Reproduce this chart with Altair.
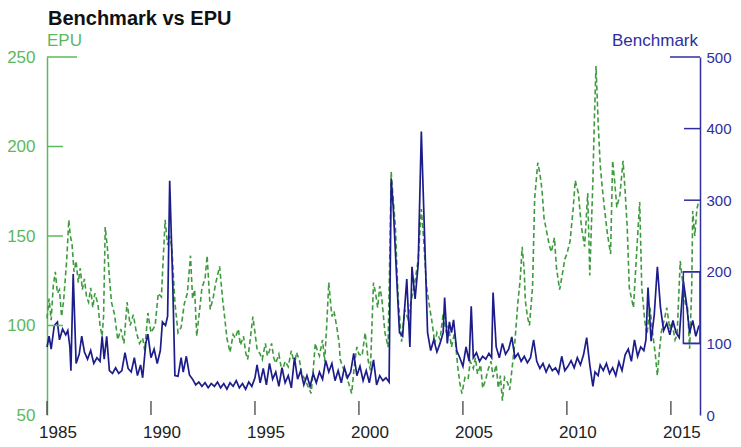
import altair as alt
import pandas as pd

# ---------------- data ----------------
bench_x = [1985.0, 1985.1, 1985.2, 1985.35, 1985.5, 1985.6, 1985.75, 1985.9, 1986.0, 1986.1,
           1986.15, 1986.26, 1986.4, 1986.55, 1986.67, 1986.8, 1986.95, 1987.1, 1987.25, 1987.4,
           1987.55, 1987.65, 1987.75, 1987.87, 1988.0, 1988.15, 1988.3, 1988.45, 1988.6, 1988.75,
           1988.9, 1989.05, 1989.2, 1989.35, 1989.5, 1989.6, 1989.75, 1989.85, 1990.0, 1990.15,
           1990.3, 1990.45, 1990.55, 1990.7, 1990.8, 1990.9, 1991.05, 1991.15, 1991.3, 1991.45,
           1991.55, 1991.7, 1991.85, 1992.0, 1992.15, 1992.3, 1992.45, 1992.6, 1992.75, 1992.9,
           1993.05, 1993.2, 1993.35, 1993.5, 1993.65, 1993.8, 1993.95, 1994.1, 1994.25, 1994.4,
           1994.55, 1994.7, 1994.85, 1995.0, 1995.1, 1995.25, 1995.4, 1995.55, 1995.7, 1995.85,
           1996.0, 1996.15, 1996.3, 1996.45, 1996.6, 1996.75, 1996.9, 1997.05, 1997.2, 1997.35,
           1997.5, 1997.65, 1997.8, 1997.95, 1998.1, 1998.25, 1998.4, 1998.55, 1998.7, 1998.85,
           1999.0, 1999.15, 1999.3, 1999.45, 1999.6, 1999.75, 1999.9, 2000.05, 2000.2, 2000.35,
           2000.5, 2000.7, 2000.85, 2001.0, 2001.15, 2001.3, 2001.45, 2001.55, 2001.65, 2001.8,
           2001.95, 2002.1, 2002.3, 2002.45, 2002.55, 2002.7, 2002.85, 2003.0, 2003.15, 2003.3,
           2003.45, 2003.6, 2003.75, 2003.9, 2004.05, 2004.12, 2004.25, 2004.35, 2004.45, 2004.55,
           2004.7, 2004.85, 2005.0, 2005.15, 2005.3, 2005.4, 2005.5, 2005.65, 2005.8, 2005.95,
           2006.1, 2006.25, 2006.38, 2006.45, 2006.6, 2006.75, 2006.9, 2007.05, 2007.2, 2007.35,
           2007.5, 2007.65, 2007.8, 2007.95, 2008.1, 2008.25, 2008.4, 2008.55, 2008.7, 2008.85,
           2009.0, 2009.15, 2009.3, 2009.45, 2009.6, 2009.75, 2009.9, 2010.05, 2010.2, 2010.35,
           2010.5, 2010.65, 2010.8, 2010.95, 2011.1, 2011.25, 2011.35, 2011.5, 2011.6, 2011.75,
           2011.9, 2012.05, 2012.2, 2012.35, 2012.5, 2012.65, 2012.8, 2012.95, 2013.1, 2013.25,
           2013.4, 2013.55, 2013.7, 2013.8, 2013.9, 2014.05, 2014.2, 2014.35, 2014.5, 2014.65,
           2014.8, 2014.95, 2015.1, 2015.25, 2015.4, 2015.6, 2015.75, 2015.9, 2016.05, 2016.2,
           2016.35]
bench_y = [95, 110, 92, 125, 130, 105, 120, 112, 118, 95,
           62, 197, 72, 85, 110, 88, 78, 90, 72, 80,
           75, 110, 78, 110, 62, 58, 66, 58, 62, 87,
           65, 60, 80, 55, 70, 52, 100, 113, 80, 92,
           72, 90, 130, 125, 138, 327, 180, 55, 54, 80,
           60, 82, 56, 50, 42, 46, 40, 45, 38, 44,
           40, 46, 38, 44, 36, 45, 40, 48, 38, 44,
           36, 46, 40, 52, 70, 45, 65, 42, 72, 50,
           60, 40, 66, 45, 55, 38, 80, 50, 62, 42,
           55, 40, 58, 45, 60, 50, 76, 60, 72, 48,
           62, 45, 66, 52, 60, 86, 55, 68, 48, 62,
           45, 77, 42, 55, 48, 52, 46, 330, 290, 200,
           115, 110, 190, 95, 207, 162, 211, 396, 256, 115,
           90, 105, 88, 100, 115, 164, 100, 130, 115, 133,
           90, 80, 68, 95, 75, 152, 80, 87, 75, 82,
           78, 86, 80, 171, 95, 80, 100, 85, 92, 109,
           80, 86, 75, 82, 73, 80, 105, 75, 65, 72,
           60, 70, 62, 66, 58, 82, 62, 68, 76, 66,
           80, 70, 84, 108, 70, 40, 60, 55, 70, 62,
           72, 58, 66, 55, 74, 62, 84, 92, 75, 105,
           82, 95, 90, 105, 178, 103, 140, 207, 150, 118,
           128, 112, 132, 115, 108, 187, 156, 115, 132, 110,
           125]

epu_x = [1985.0, 1985.1, 1985.2, 1985.3, 1985.4, 1985.5, 1985.6, 1985.7, 1985.8, 1985.95,
         1986.05, 1986.12, 1986.2, 1986.3, 1986.4, 1986.5, 1986.6, 1986.7, 1986.8, 1986.9,
         1987.0, 1987.1, 1987.2, 1987.3, 1987.45, 1987.55, 1987.65, 1987.72, 1987.8, 1987.9,
         1988.0, 1988.1, 1988.25, 1988.4, 1988.55, 1988.7, 1988.85, 1989.0, 1989.15, 1989.3,
         1989.45, 1989.6, 1989.7, 1989.85, 1990.0, 1990.2, 1990.35, 1990.5, 1990.6, 1990.68,
         1990.8, 1990.9, 1991.0, 1991.15, 1991.3, 1991.45, 1991.6, 1991.75, 1991.9, 1992.0,
         1992.1, 1992.2, 1992.35, 1992.45, 1992.6, 1992.7, 1992.85, 1993.0, 1993.1, 1993.2,
         1993.3, 1993.45, 1993.55, 1993.65, 1993.8, 1993.95, 1994.05, 1994.2, 1994.3, 1994.45,
         1994.55, 1994.65, 1994.75, 1994.9, 1995.0, 1995.1, 1995.25, 1995.35, 1995.5, 1995.6,
         1995.7, 1995.8, 1995.9, 1996.0, 1996.15, 1996.3, 1996.45, 1996.6, 1996.75, 1996.9,
         1997.0, 1997.15, 1997.25, 1997.4, 1997.55, 1997.7, 1997.8, 1997.9, 1998.0, 1998.1,
         1998.25, 1998.35, 1998.45, 1998.55, 1998.62, 1998.7, 1998.8, 1998.95, 1999.05, 1999.1,
         1999.25, 1999.35, 1999.5, 1999.65, 1999.8, 1999.9, 2000.0, 2000.15, 2000.3, 2000.45,
         2000.55, 2000.7, 2000.8, 2000.9, 2001.0, 2001.1, 2001.25, 2001.4, 2001.5, 2001.55,
         2001.65, 2001.75, 2001.85, 2001.9, 2002.05, 2002.2, 2002.35, 2002.55, 2002.7, 2002.85,
         2003.0, 2003.1, 2003.25, 2003.4, 2003.5, 2003.65, 2003.75, 2003.9, 2004.05, 2004.2,
         2004.3, 2004.45, 2004.6, 2004.75, 2004.85, 2004.95, 2005.1, 2005.25, 2005.35, 2005.5,
         2005.6, 2005.7, 2005.85, 2005.95, 2006.1, 2006.2, 2006.35, 2006.45, 2006.6, 2006.7,
         2006.8, 2006.9, 2007.0, 2007.15, 2007.25, 2007.4, 2007.5, 2007.65, 2007.75, 2007.85,
         2007.95, 2008.0, 2008.1, 2008.2, 2008.35, 2008.45, 2008.6, 2008.7, 2008.8, 2008.9,
         2009.0, 2009.15, 2009.25, 2009.4, 2009.5, 2009.65, 2009.8, 2009.9, 2010.0, 2010.15,
         2010.3, 2010.4, 2010.55, 2010.7, 2010.85, 2011.0, 2011.1, 2011.25, 2011.32, 2011.4,
         2011.5, 2011.6, 2011.7, 2011.8, 2011.95, 2012.1, 2012.2, 2012.3, 2012.4, 2012.55,
         2012.7, 2012.8, 2012.9, 2013.0, 2013.2, 2013.35, 2013.5, 2013.6, 2013.75, 2013.85,
         2014.0, 2014.1, 2014.25, 2014.35, 2014.45, 2014.55, 2014.7, 2014.8, 2014.95, 2015.05,
         2015.2, 2015.3, 2015.45, 2015.6, 2015.7, 2015.8, 2015.9, 2016.0, 2016.05, 2016.15,
         2016.25, 2016.35]
epu_y = [104, 115, 103, 122, 130, 118, 120, 105, 114, 137,
         159, 150, 146, 130, 136, 124, 132, 120, 126, 116,
         113, 121, 110, 118, 112, 100, 94, 105, 155, 144,
         127, 113, 106, 92, 98, 90, 113, 100, 106, 96,
         90, 93, 86, 107, 96, 100, 118, 116, 140, 159,
         145, 150, 144, 113, 96, 99, 112, 118, 139, 115,
         120, 94, 110, 121, 126, 139, 109, 116, 123, 128,
         133, 114, 104, 93, 85, 95, 93, 98, 89, 94,
         85, 81, 90, 105, 96, 87, 84, 81, 90, 83,
         86, 90, 82, 79, 84, 74, 80, 77, 86, 78,
         85, 80, 73, 70, 66, 62, 75, 90, 86, 83,
         92, 80, 100, 124, 115, 105, 108, 98, 90, 81,
         76, 73, 68, 62, 80, 88, 84, 83, 96, 80,
         75, 124, 118, 110, 122, 115, 96, 88, 150, 186,
         170, 156, 125, 113, 91, 109, 104, 116, 125, 137,
         165, 150, 122, 110, 103, 90, 96, 92, 107, 96,
         100, 88, 96, 77, 68, 62, 71, 70, 80, 76,
         82, 73, 78, 65, 70, 75, 80, 71, 78, 65,
         72, 58, 71, 68, 64, 80, 91, 114, 125, 144,
         130, 114, 105, 100, 122, 171, 191, 185, 176, 160,
         154, 145, 141, 149, 132, 120, 130, 137, 140, 147,
         165, 181, 174, 155, 144, 174, 128, 181, 215, 245,
         214, 190, 177, 166, 151, 140, 192, 180, 166, 173,
         192, 175, 155, 121, 110, 140, 169, 121, 102, 95,
         110, 98, 84, 72, 86, 97, 104, 110, 98, 102,
         92, 95, 136, 121, 112, 110, 87, 120, 164, 150,
         165, 170]

x_ticks = [1985, 1990, 1995, 2000, 2005, 2010, 2015]
epu_ticks = [50, 100, 150, 200, 250]
bench_ticks = [0, 100, 200, 300, 400, 500]
box_x = [2015.6, 2016.4]
box_y = [100, 200]

# ---------------- styling ----------------
W, H = 653, 358
FONT = "Liberation Sans"
GREEN = "#3d9a3d"
GREEN_AX = "#5cb85c"
BLUE = "#1c1c8a"
BLUE_AX = "#2e2e9e"

bench_df = pd.DataFrame({"year": bench_x, "Benchmark": bench_y})
epu_df = pd.DataFrame({"year": epu_x, "EPU": epu_y})
xt_df = pd.DataFrame({"year": x_ticks, "label": [str(t) for t in x_ticks]})
et_df = pd.DataFrame({"v": epu_ticks[1:-1]})
bt_df = pd.DataFrame({"v": bench_ticks[1:-1]})
box_df = pd.DataFrame({"x": [box_x[0]], "x2": [box_x[1]], "y": [box_y[0]], "y2": [box_y[1]]})

xscale = alt.Scale(domain=[1985, 2016.4], nice=False, zero=False)
epu_scale = alt.Scale(domain=[50, 250], nice=False, zero=False)
bench_scale = alt.Scale(domain=[0, 500], nice=False, zero=False)

x_axis = alt.Axis(values=x_ticks, title=None, grid=False, ticks=False, labels=False,
                  domainColor="#444444", domainWidth=1.3)

epu_line = alt.Chart(epu_df).mark_line(
    color=GREEN, strokeWidth=1.6, strokeDash=[5, 3], interpolate="linear"
).encode(
    x=alt.X("year:Q", scale=xscale, axis=x_axis),
    y=alt.Y("EPU:Q", scale=epu_scale,
            axis=alt.Axis(values=epu_ticks, title=None, grid=False, ticks=False,
                          domainColor=GREEN_AX, domainWidth=1.5, labelColor=GREEN_AX,
                          labelFont=FONT, labelFontSize=17, labelPadding=12,
                          labelFlush=False, orient="left")),
)

bench_line = alt.Chart(bench_df).mark_line(
    color=BLUE, strokeWidth=1.7, interpolate="linear"
).encode(
    x=alt.X("year:Q", scale=xscale, axis=None),
    y=alt.Y("Benchmark:Q", scale=bench_scale,
            axis=alt.Axis(values=bench_ticks, title=None, grid=False, ticks=False,
                          domainColor=BLUE_AX, domainWidth=1.5, labelColor=BLUE_AX,
                          labelFont=FONT, labelFontSize=15, labelPadding=6,
                          labelFlush=False, orient="right")),
)

# inward tick marks
x_tick_rules = alt.Chart(xt_df).mark_rule(color="#444444", strokeWidth=1.3).encode(
    x=alt.X("year:Q", scale=xscale, axis=None),
    y=alt.value(H), y2=alt.value(H - 14),
)
# x labels, centred on the middle of the labelled year
x_labels = alt.Chart(xt_df).mark_text(
    font=FONT, fontSize=17, color="#222222", align="center", baseline="top", dx=11, dy=10
).encode(
    x=alt.X("year:Q", scale=xscale, axis=None),
    y=alt.value(H),
    text="label:N",
)
epu_tick_rules = alt.Chart(et_df).mark_rule(color=GREEN_AX, strokeWidth=1.5).encode(
    y=alt.Y("v:Q", scale=epu_scale, axis=None),
    x=alt.value(0), x2=alt.value(16),
)
bench_tick_rules = alt.Chart(bt_df).mark_rule(color=BLUE_AX, strokeWidth=1.5).encode(
    y=alt.Y("v:Q", scale=bench_scale, axis=None),
    x=alt.value(W), x2=alt.value(W - 16),
)
epu_top = alt.Chart(pd.DataFrame({"v": [epu_ticks[-1]]})).mark_rule(
    color=GREEN_AX, strokeWidth=1.5).encode(
    y=alt.Y("v:Q", scale=epu_scale, axis=None), x=alt.value(0), x2=alt.value(30))
bench_top = alt.Chart(pd.DataFrame({"v": [bench_ticks[-1]]})).mark_rule(
    color=BLUE_AX, strokeWidth=1.5).encode(
    y=alt.Y("v:Q", scale=bench_scale, axis=None), x=alt.value(W), x2=alt.value(W - 30))

box = alt.Chart(box_df).mark_rect(fillOpacity=0, stroke=BLUE_AX, strokeWidth=1.5).encode(
    x=alt.X("x:Q", scale=xscale, axis=None), x2="x2:Q",
    y=alt.Y("y:Q", scale=bench_scale, axis=None), y2="y2:Q",
)

one = alt.Data(values=[{}])
title_txt = alt.Chart(one).mark_text(
    text="Benchmark vs EPU", font=FONT, fontSize=20, fontWeight="bold",
    color="#111111", align="left", baseline="alphabetic"
).encode(x=alt.value(1), y=alt.value(-32))
epu_lbl = alt.Chart(one).mark_text(
    text="EPU", font=FONT, fontSize=17, color=GREEN_AX, align="left", baseline="alphabetic"
).encode(x=alt.value(0), y=alt.value(-11))
bench_lbl = alt.Chart(one).mark_text(
    text="Benchmark", font=FONT, fontSize=17, color=BLUE_AX, align="right", baseline="alphabetic"
).encode(x=alt.value(W - 2), y=alt.value(-11))

chart = alt.layer(
    epu_line, bench_line, x_tick_rules, x_labels, epu_tick_rules, bench_tick_rules,
    epu_top, bench_top, box, title_txt, epu_lbl, bench_lbl
).resolve_scale(y="independent").properties(
    width=W, height=H,
    autosize=alt.AutoSizeParams(type="none"),
    padding={"left": 39, "top": 49, "right": 33, "bottom": 30},
    background="white",
).configure_view(stroke=None)

chart.save("out.html", embed_options={"renderer": "svg", "actions": False})
